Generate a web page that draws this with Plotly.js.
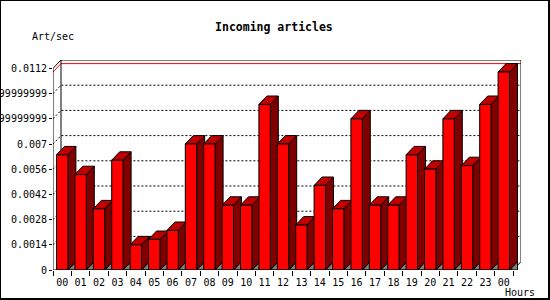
<!DOCTYPE html>
<html>
<head>
<meta charset="utf-8">
<script src="https://cdn.plot.ly/plotly-3.0.1.min.js"></script>
<style>
  html, body { margin: 0; padding: 0; background: #fff; }
  #wrap { position: relative; width: 550px; height: 300px; }
  #chart { position: absolute; left: 0; top: 0; width: 550px; height: 300px; }
  #frame { position: absolute; left: 0; top: 0; width: 547px; height: 297px;
           border-left: 1px solid #000; border-top: 1px solid #000;
           border-right: 2px solid #000; border-bottom: 2px solid #000; pointer-events: none; }
</style>
</head>
<body>
<div id="wrap"><div id="chart"></div><div id="frame"></div></div>
<script>
// ---- data ----
const hours = ['00','01','02','03','04','05','06','07','08','09','10','11','12',
               '13','14','15','16','17','18','19','20','21','22','23','00'];
const artPerSec = [0.0064, 0.0053, 0.0034, 0.0061, 0.0014, 0.0017, 0.0022, 0.0070,
                   0.0070, 0.0036, 0.0036, 0.0092, 0.0070, 0.0025, 0.0047, 0.0034,
                   0.0084, 0.0036, 0.0036, 0.0064, 0.0056, 0.0084, 0.0058, 0.0092, 0.0110];
const yTickVals = [0, 0.0014, 0.0028, 0.0042, 0.0056, 0.007, 0.0084, 0.0098, 0.0112];
const yTickText = ['0', '0.0014', '0.0028', '0.0042', '0.0056', '0.007',
                   '0.00839999999999', '0.00979999999999', '0.0112'];

// ---- geometry (pixels -> axis units) ----
const n = hours.length;
const pxPerCat = 18.4;
const plotW = 468, plotH = 210;
const yMaxAxis = 0.0112;
const depthPx = 8;
const dx = depthPx / pxPerCat;                 // depth in x units
const xMin = -0.5, xFront = n - 0.5;
const xMax = xFront + dx;
const yPerPx = yMaxAxis / 201.6;
const dy = plotH * yPerPx - yMaxAxis;          // depth in y units
const yTop = yMaxAxis + dy;
const barW = 0.62;

const shapes = [];
const ln = (pts, color, dash, layer, width) => ({
  type: 'path', xref: 'x', yref: 'y', layer: layer || 'below',
  path: 'M' + pts.map(p => p[0] + ',' + p[1]).join('L'),
  line: { color: color, width: width || 1, dash: dash || 'solid' }
});
const poly = (pts, fill) => ({
  type: 'path', xref: 'x', yref: 'y', layer: 'below',
  path: 'M' + pts.map(p => p[0] + ',' + p[1]).join('L') + 'Z',
  fillcolor: fill, line: { color: '#000', width: 1 }
});

// dotted grid lines: diagonal from front axis then across back wall
yTickVals.forEach(v => {
  if (v <= 0 || v >= yMaxAxis) return;
  shapes.push(ln([[xMin, v], [xMin + dx, v + dy], [xMax, v + dy]], '#000', '2px,2px'));
});
// maximum line (red)
const vmax = Math.max(...artPerSec);
shapes.push(ln([[xMin, vmax], [xMin + dx, vmax + dy], [xMax, vmax + dy]], '#ff0000'));
// back wall outline
shapes.push(ln([[xMin + dx, dy], [xMin + dx, yTop], [xMax, yTop], [xMax, dy], [xFront, 0]], '#000'));

// 3D side/top faces and floor triangles
artPerSec.forEach((v, i) => {
  const x0 = i - barW / 2, x1 = i + barW / 2;
  shapes.push(poly([[x1, 0], [x1 + dx, dy], [x1 + dx, 0]], '#808080'));
  shapes.push(poly([[x1, 0], [x1 + dx, dy], [x1 + dx, v + dy], [x1, v]], '#800000'));
  shapes.push(poly([[x0, v], [x1, v], [x1 + dx, v + dy], [x0 + dx, v + dy]], '#c00000'));
});

// front axes
shapes.push(ln([[xMin, 0], [xMin, yMaxAxis], [xMin + dx, yTop]], '#000', 'solid', 'above'));
shapes.push(ln([[xMin, 0], [xFront, 0]], '#000', 'solid', 'above'));

const boundaries = [];
for (let i = 0; i <= n; i++) boundaries.push(i - 0.5);

const trace = {
  type: 'bar',
  x: artPerSec.map((_, i) => i),
  y: artPerSec,
  width: barW,
  marker: { color: '#ff0000', line: { color: '#000', width: 1 } },
  hoverinfo: 'skip'
};

const mono = 'DejaVu Sans Mono, monospace';
const layout = {
  width: 550, height: 300,
  margin: { l: 53, r: 550 - 53 - plotW, t: 300 - 30 - plotH, b: 30, pad: 0 },
  paper_bgcolor: '#fff', plot_bgcolor: 'rgba(0,0,0,0)',
  showlegend: false,
  font: { family: mono, size: 10, color: '#000' },
  title: { text: 'Incoming articles', x: 0.498, xanchor: 'center', y: 1 - 27 / 300, yanchor: 'middle',
           font: { family: mono, size: 11.5, color: '#000', weight: 'bold' } },
  xaxis: {
    range: [xMin, xMax], showgrid: false, zeroline: false, showline: false,
    tickmode: 'array', tickvals: hours.map((_, i) => i), ticktext: hours,
    ticks: '', ticklabelstandoff: 5, tickfont: { family: mono, size: 10, color: '#000' },
    minor: { tickmode: 'array', tickvals: boundaries, ticks: 'outside', ticklen: 5, tickcolor: '#000', showgrid: false },
    fixedrange: true
  },
  yaxis: {
    range: [0, yTop], showgrid: false, zeroline: false, showline: false,
    tickmode: 'array', tickvals: yTickVals, ticktext: yTickText,
    ticks: 'outside', ticklen: 3, tickcolor: '#000', automargin: false,
    tickfont: { family: mono, size: 10, color: '#000' },
    fixedrange: true
  },
  shapes: shapes,
  annotations: [
    { text: 'Art/sec', xref: 'paper', yref: 'paper', x: (30 - 53) / plotW, y: (270 - 37) / plotH,
      xanchor: 'left', yanchor: 'middle', showarrow: false, font: { family: mono, size: 10, color: '#000' } },
    { text: 'Hours', xref: 'paper', yref: 'paper', x: (503 - 53) / plotW, y: (270 - 292) / plotH,
      xanchor: 'left', yanchor: 'middle', showarrow: false, font: { family: mono, size: 10, color: '#000' } }
  ]
};

Plotly.newPlot('chart', [trace], layout, { displayModeBar: false, staticPlot: true });
</script>
</body>
</html>
